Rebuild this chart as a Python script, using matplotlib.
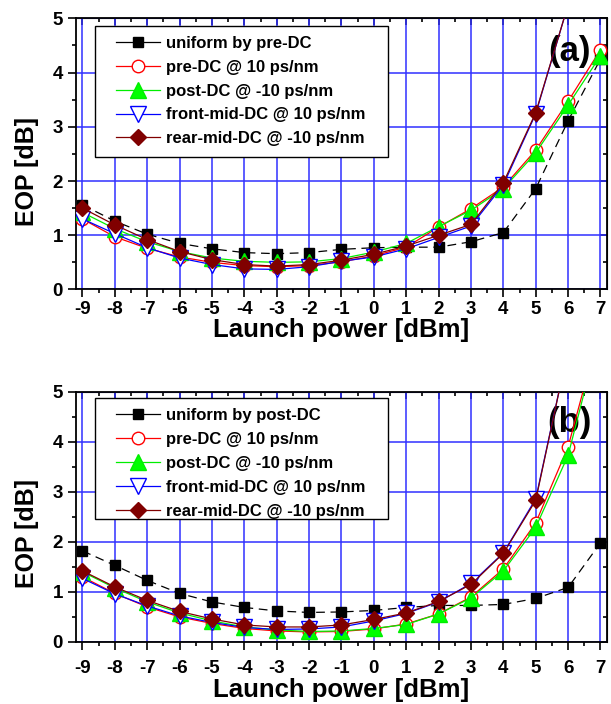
import numpy as np
import matplotlib
matplotlib.use("Agg")
import matplotlib.pyplot as plt
from matplotlib.lines import Line2D
from matplotlib.patches import Rectangle
from matplotlib.ticker import MultipleLocator

plt.rcParams['font.family'] = ['Liberation Sans', 'DejaVu Sans']
plt.rcParams['font.weight'] = 'bold'
plt.rcParams['axes.unicode_minus'] = False

nan = np.nan
power = np.arange(-9, 8)

# panel (a)
a_uniform = [1.56, 1.26, 1.02, 0.85, 0.75, 0.68, 0.66, 0.68, 0.74, 0.77, 0.78, 0.78, 0.88, 1.05, 1.86, 3.11, 4.25]
a_pre = [1.30, 0.97, 0.76, 0.60, 0.50, 0.44, 0.42, 0.44, 0.51, 0.62, 0.78, 1.15, 1.49, 1.89, 2.57, 3.47, 4.42]
a_post = [1.42, 1.12, 0.88, 0.70, 0.58, 0.52, 0.50, 0.51, 0.57, 0.69, 0.85, 1.16, 1.46, 1.86, 2.52, 3.40, 4.31]
a_front = [1.30, 1.03, 0.77, 0.58, 0.46, 0.38, 0.37, 0.42, 0.52, 0.60, 0.75, 0.96, 1.17, 1.93, 3.24, 5.25, nan]
a_rear = [1.50, 1.19, 0.92, 0.70, 0.55, 0.46, 0.43, 0.46, 0.54, 0.65, 0.80, 1.00, 1.20, 1.97, 3.26, 5.25, nan]

# panel (b)
b_uniform = [1.82, 1.53, 1.23, 0.97, 0.80, 0.69, 0.62, 0.59, 0.60, 0.63, 0.69, 0.73, 0.73, 0.75, 0.87, 1.09, 1.98]
b_pre = [1.30, 0.97, 0.70, 0.50, 0.37, 0.27, 0.22, 0.20, 0.21, 0.26, 0.36, 0.56, 0.90, 1.46, 2.38, 3.90, 6.30]
b_post = [1.40, 1.08, 0.80, 0.58, 0.42, 0.30, 0.24, 0.21, 0.22, 0.27, 0.35, 0.56, 0.88, 1.42, 2.29, 3.73, 6.25]
b_front = [1.27, 0.96, 0.72, 0.52, 0.39, 0.29, 0.25, 0.26, 0.30, 0.42, 0.57, 0.80, 1.17, 1.78, 2.86, 5.85, nan]
b_rear = [1.42, 1.10, 0.83, 0.61, 0.46, 0.34, 0.30, 0.30, 0.34, 0.45, 0.58, 0.81, 1.15, 1.77, 2.83, 5.85, nan]

labels_a = ['uniform by pre-DC', 'pre-DC @ 10 ps/nm', 'post-DC @ -10 ps/nm',
            'front-mid-DC @ 10 ps/nm', 'rear-mid-DC @ -10 ps/nm']
labels_b = ['uniform by post-DC'] + labels_a[1:]

styles = [
    dict(color='black', marker='s', ms=7, mfc='black', mec='black'),
    dict(color='#ff0000', marker='o', ms=9, mfc='white', mec='#ff0000'),
    dict(color='#00ee00', marker='^', ms=11.5, mfc='#00ff00', mec='#00ee00'),
    dict(color='#0000ff', marker='v', ms=11, mfc='white', mec='#0000ff'),
    dict(color='#800000', marker='D', ms=8.5, mfc='#800000', mec='#800000'),
]

fig = plt.figure(figsize=(6.11, 7.04), dpi=100)
ax_a = fig.add_axes([0.1244, 0.5888, 0.869, 0.3852])
ax_b = fig.add_axes([0.1244, 0.0881, 0.869, 0.3555])


def draw(ax, series, labels, tag, xpad, xlab_y, leg_box, leg_top):
    for i, (y, st) in enumerate(zip(series, styles)):
        ln, = ax.plot(power, y, lw=0.9, mew=1.0, zorder=3 + i * 0.1, **st)
        if i == 0:
            ln.set_dashes([7, 4.5])
    ax.set_xlim(-9.2, 7.2)
    ax.set_ylim(0, 5)
    ax.xaxis.set_major_locator(MultipleLocator(1))
    ax.xaxis.set_minor_locator(MultipleLocator(0.5))
    ax.yaxis.set_major_locator(MultipleLocator(1))
    ax.yaxis.set_minor_locator(MultipleLocator(0.5))
    ax.grid(True, which='major', color='#3030ff', lw=1.1, zorder=1)
    ax.set_axisbelow(True)
    ax.tick_params(which='major', direction='out', length=5.5, width=1.2,
                   labelsize=13.5)
    ax.tick_params(which='minor', direction='out', length=3, width=1.2)
    ax.tick_params(axis='x', which='major', pad=xpad)
    ax.tick_params(axis='y', which='major', pad=4)
    for s in ax.spines.values():
        s.set_linewidth(1.3)
    # mirrored inward ticks on top and right
    top = ax.secondary_xaxis('top')
    top.xaxis.set_major_locator(MultipleLocator(1))
    top.xaxis.set_minor_locator(MultipleLocator(0.5))
    top.tick_params(which='both', direction='in', length=5, width=1.2, labeltop=False)
    top.tick_params(which='minor', length=3)
    right = ax.secondary_yaxis('right')
    right.yaxis.set_major_locator(MultipleLocator(1))
    right.yaxis.set_minor_locator(MultipleLocator(0.5))
    right.tick_params(which='both', direction='in', length=5, width=1.2, labelright=False)
    right.tick_params(which='minor', length=3)

    ax.set_xlabel('Launch power [dBm]', fontsize=18.5, fontweight='bold', va='center')
    ax.xaxis.set_label_coords(0.5, xlab_y)
    ax.set_ylabel('EOP [dB]', fontsize=18, fontweight='bold', va='center')
    ax.yaxis.set_label_coords(-0.092, 0.435)

    ax.text(0.93, 0.878, tag, transform=ax.transAxes, fontsize=25,
            fontweight='bold', ha='center', va='center')

    x0, y0, w, h = leg_box
    ax.add_patch(Rectangle((x0, y0), w, h, transform=ax.transAxes,
                           fc='white', ec='black', lw=1.0, zorder=6))
    handles = [Line2D([], [], lw=0.9, mew=1.0, **st) for st in styles]
    leg = ax.legend(handles, labels, loc='upper left', frameon=False,
                    bbox_to_anchor=(x0 + 0.04, leg_top),
                    borderaxespad=0, borderpad=0, handlelength=2.6,
                    handletextpad=0.4, labelspacing=0.53, numpoints=1,
                    prop=dict(size=12, weight='bold'))
    leg.set_zorder(7)


draw(ax_a, [a_uniform, a_pre, a_post, a_front, a_rear], labels_a, '(a)',
     2.5, -0.149, (0.036, 0.49, 0.552, 0.482), 0.935)
draw(ax_b, [b_uniform, b_pre, b_post, b_front, b_rear], labels_b, '(b)',
     7.5, -0.192, (0.036, 0.49, 0.552, 0.484), 0.934)

fig.savefig('out.png', dpi=100)
